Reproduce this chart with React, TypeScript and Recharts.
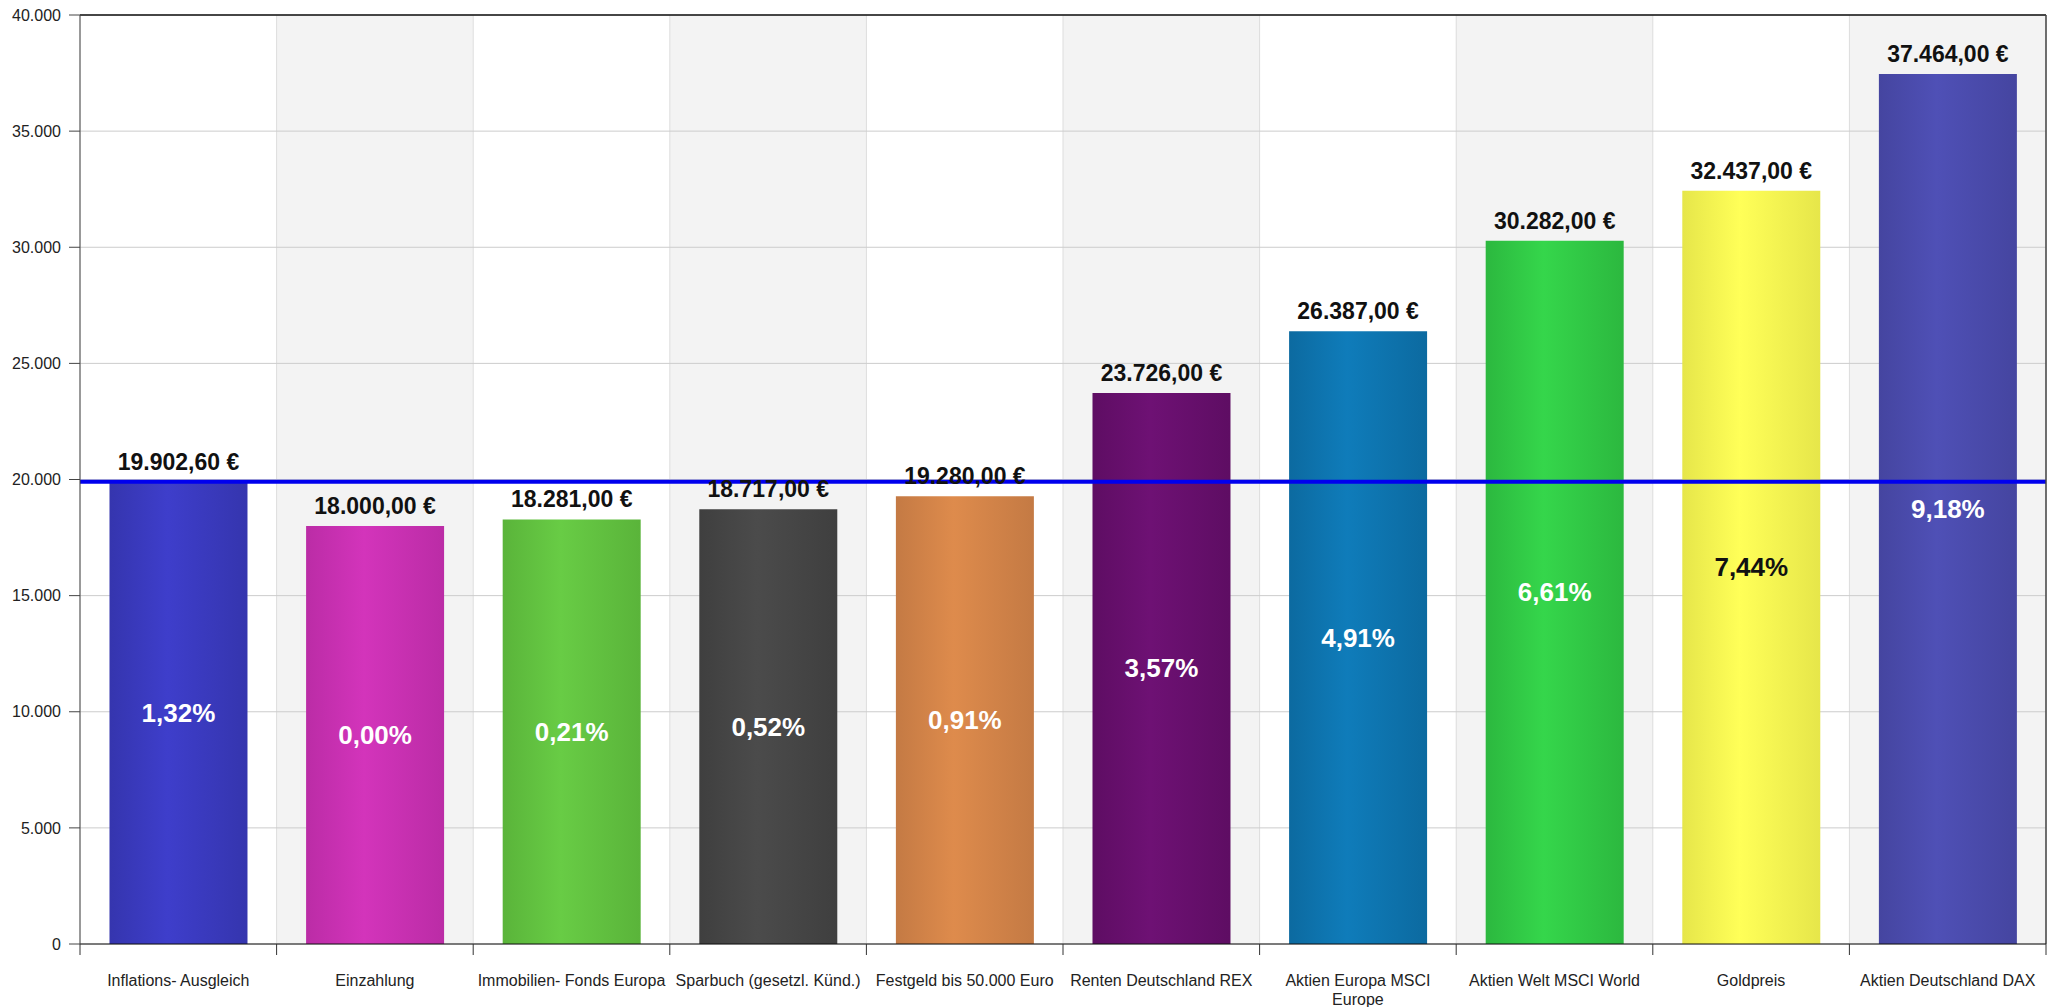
import { BarChart, Bar, XAxis, YAxis, CartesianGrid, Cell, LabelList, ReferenceLine, Text } from 'recharts';

const CATEGORIES = [
  'Inflations- Ausgleich',
  'Einzahlung',
  'Immobilien- Fonds Europa',
  'Sparbuch (gesetzl. Künd.)',
  'Festgeld bis 50.000 Euro',
  'Renten Deutschland REX',
  'Aktien Europa MSCI Europe',
  'Aktien Welt MSCI World',
  'Goldpreis',
  'Aktien Deutschland DAX',
];
const VALUES = [19902.6, 18000, 18281, 18717, 19280, 23726, 26387, 30282, 32437, 37464];
const RATES = [1.32, 0.0, 0.21, 0.52, 0.91, 3.57, 4.91, 6.61, 7.44, 9.18];
const INFLATION_LINE = 19902.6;
const Y_TICKS = [0, 5000, 10000, 15000, 20000, 25000, 30000, 35000, 40000];

// [edge, middle] of each bar's horizontal gradient
const PALETTE = [
  ['#3535ae', '#3e3ecb'],
  ['#bb2ca6', '#d334bb'],
  ['#5ab43a', '#68cc45'],
  ['#3f3f3f', '#4b4b4b'],
  ['#c47a44', '#de8b4c'],
  ['#5e0d63', '#6e1174'],
  ['#0c6aa0', '#0f7cba'],
  ['#2cb83f', '#35d64b'],
  ['#e6e64a', '#ffff58'],
  ['#4545a0', '#4f50b6'],
];
const DARK_LABEL = new Set([8]);

const FONT = '"Liberation Sans", Arial, sans-serif';

const data = CATEGORIES.map((name, i) => ({ name, value: VALUES[i], rate: RATES[i] }));

function thousands(s: string) {
  return s.replace(/\B(?=(\d{3})+(?!\d))/g, '.');
}

function euro(v: number) {
  const [int, dec] = v.toFixed(2).split('.');
  return `${thousands(int)},${dec} €`;
}

// grid lines sit on category boundaries, not on the band centres
function boundaries({ offset }: any) {
  const step = offset.width / CATEGORIES.length;
  return CATEGORIES.map((_, i) => offset.left + i * step).concat(offset.left + offset.width);
}

function CategoryTick(props: any) {
  const { x, y, payload, index } = props;
  const half = payload && payload.offset ? payload.offset : 98.3;
  const labelStyle = { fontSize: 16, fontFamily: FONT };
  return (
    <g>
      <line x1={x - half} x2={x - half} y1={y} y2={y + 11} stroke="#333" />
      {index === CATEGORIES.length - 1 && <line x1={x + half} x2={x + half} y1={y} y2={y + 11} stroke="#333" />}
      <Text
        x={x}
        y={y + 31}
        width={190}
        textAnchor="middle"
        verticalAnchor="start"
        style={labelStyle}
        fontSize={16}
        fontFamily={FONT}
        fill="#222"
        lineHeight={19}
      >
        {payload.value}
      </Text>
    </g>
  );
}

function RateLabel(props: any) {
  const { x, y, width, height, index, value } = props;
  return (
    <text
      x={x + width / 2}
      y={y + height / 2}
      textAnchor="middle"
      dominantBaseline="central"
      fontSize={26}
      fontWeight="bold"
      fontFamily={FONT}
      fill={DARK_LABEL.has(index) ? '#111' : '#fff'}
    >
      {`${Number(value).toFixed(2).replace('.', ',')}%`}
    </text>
  );
}

export default function App() {
  return (
    <div style={{ position: 'absolute', left: 0, top: 0, width: 2054, height: 1007, background: '#fff' }}>
      <BarChart
        width={2054}
        height={1007}
        data={data}
        margin={{ top: 15, right: 8, left: 0, bottom: 0 }}
        barCategoryGap="15%"
      >
        <defs>
          {PALETTE.map(([edge, mid], i) => (
            <linearGradient key={i} id={`bar${i}`} x1="0" y1="0" x2="1" y2="0">
              <stop offset="0%" stopColor={edge} />
              <stop offset="42%" stopColor={mid} />
              <stop offset="100%" stopColor={edge} />
            </linearGradient>
          ))}
        </defs>
        <CartesianGrid
          horizontal={false}
          stroke="#dddddd"
          verticalCoordinatesGenerator={boundaries}
          verticalFill={['#ffffff', '#f3f3f3']}
        />
        <CartesianGrid vertical={false} stroke="#cccccc" />
        <XAxis
          dataKey="name"
          height={63}
          interval={0}
          tickLine={false}
          tickSize={0}
          tickMargin={0}
          axisLine={{ stroke: '#111' }}
          tick={<CategoryTick />}
        />
        <YAxis
          width={80}
          domain={[0, 40000]}
          ticks={Y_TICKS}
          tickSize={11}
          tickMargin={8}
          tickLine={{ stroke: '#444' }}
          axisLine={{ stroke: '#444' }}
          tickFormatter={(v: number) => thousands(String(v))}
          tick={{ fontSize: 16, fontFamily: FONT, fill: '#222' }}
        />
        <Bar dataKey="value" isAnimationActive={false}>
          {data.map((_, i) => (
            <Cell key={i} fill={`url(#bar${i})`} />
          ))}
          <LabelList
            dataKey="value"
            position="top"
            offset={12}
            formatter={(v: any) => euro(Number(v))}
            style={{ fontSize: 23, fontWeight: 'bold', fontFamily: FONT, fill: '#111' }}
          />
          <LabelList dataKey="rate" content={<RateLabel />} />
        </Bar>
        <ReferenceLine y={INFLATION_LINE} stroke="#0000ee" strokeWidth={4} />
        <ReferenceLine y={40000} stroke="#111" strokeWidth={1.5} />
        <ReferenceLine x={CATEGORIES[CATEGORIES.length - 1]} position="end" stroke="#444" strokeWidth={1.5} />
      </BarChart>
    </div>
  );
}
